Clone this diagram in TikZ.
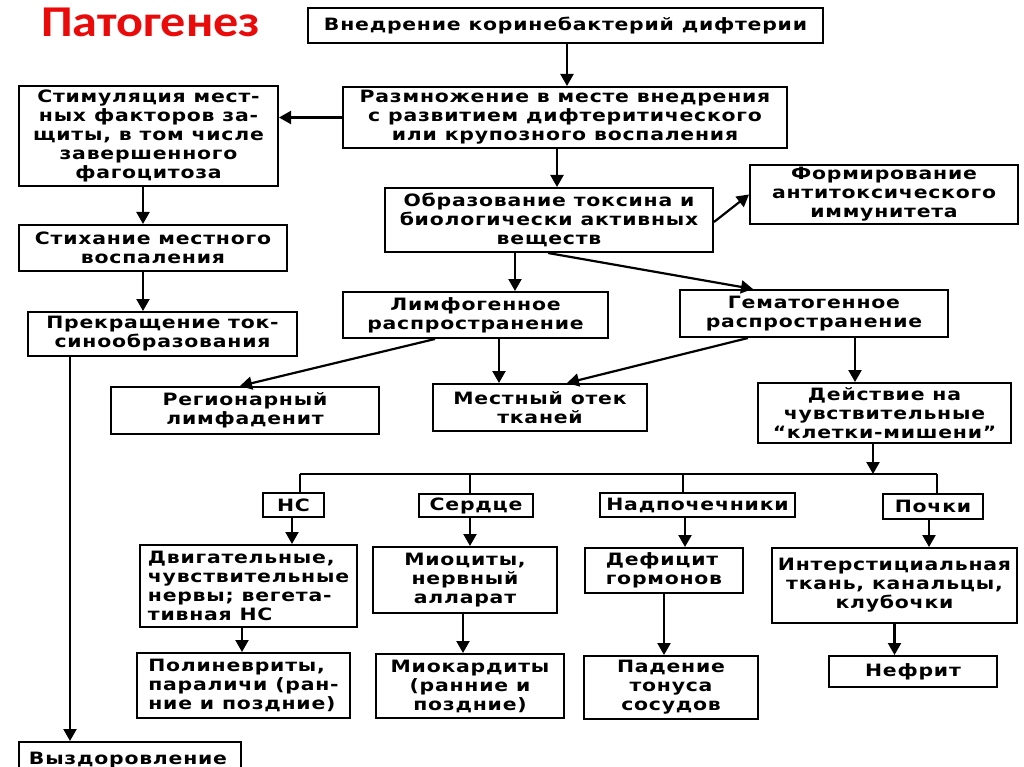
\documentclass[tikz,border=0pt]{standalone}
\usepackage{fontspec}
\setmainfont{DejaVu Sans}[FakeStretch=1.2, LetterSpace=4.5]
\newfontfamily\titlefont{Carlito}[FakeStretch=1.14]
\usetikzlibrary{arrows.meta}
\definecolor{titlered}{RGB}{235,10,10}
\tikzset{
  box/.style={draw, line width=2pt, inner sep=0pt, align=center,
    font=\fontsize{17}{19}\selectfont\bfseries},
  arr/.style={line width=2.2pt, -{Triangle[length=12pt,width=13pt]}},
  ln/.style={line width=2pt},
}
\begin{document}
\begin{tikzpicture}[x=1pt,y=-1pt]
\useasboundingbox (0,0) rectangle (1024,767);
\fill[white] (0,0) rectangle (1024,767);

\node[anchor=base west, inner sep=0pt, text=titlered,
  font=\titlefont\fontsize{44}{44}\selectfont\bfseries] (title) at (41,37) {Патогенез};

\node[box, minimum width=515pt, minimum height=35pt] (b1) at (565.5,25.5)
  {Внедрение коринебактерий дифтерии};
\node[box, minimum width=259pt, minimum height=100pt] (stim) at (148.5,136)
  {Стимуляция мест-\\ных факторов за-\\щиты, в том числе\\завершенного\\фагоцитоза};
\node[box, minimum width=444pt, minimum height=61pt] (razm) at (565,117.5)
  {Размножение в месте внедрения\\с развитием дифтеритического\\или крупозного воспаления};
\node[box, minimum width=328pt, minimum height=64pt] (obr) at (549,220)
  {Образование токсина и\\биологически активных\\веществ};
\node[box, minimum width=268pt, minimum height=59pt] (form) at (884,194.5)
  {Формирование\\антитоксического\\иммунитета};
\node[box, minimum width=268pt, minimum height=46pt] (stikh) at (153,248)
  {Стихание местного\\воспаления};
\node[box, minimum width=269pt, minimum height=44pt] (prekr) at (162.5,334)
  {Прекращение ток-\\синообразования};
\node[box, minimum width=222pt, minimum height=36pt, anchor=north west] (vyzd) at (18,741)
  {\hspace*{-4pt}Выздоровление};
\node[box, minimum width=265pt, minimum height=46pt] (limf) at (475.5,315)
  {Лимфогенное\\распространение};
\node[box, minimum width=268pt, minimum height=47pt] (gem) at (814,313.5)
  {Гематогенное\\распространение};
\node[box, minimum width=268pt, minimum height=47pt] (reg) at (245,410.5)
  {Регионарный\\лимфаденит};
\node[box, minimum width=214pt, minimum height=47pt] (otek) at (540,407.5)
  {Местный отек\\тканей};
\node[box, minimum width=253pt, minimum height=60pt] (deyst) at (884.5,413)
  {Действие на\\чувствительные\\“клетки-мишени”};

\node[box, minimum width=61pt, minimum height=24pt] (ns) at (293.5,505) {НС};
\node[box, minimum width=114pt, minimum height=23pt] (serd) at (476,505.5) {Сердце};
\node[box, minimum width=195pt, minimum height=24pt] (nadp) at (697.5,505) {Надпочечники};
\node[box, minimum width=100pt, minimum height=25pt] (poch) at (933,506.5) {Почки};

\node[box, minimum width=217pt, minimum height=82pt, align=left] (dvig) at (248.5,586)
  {Двигательные,\\чувствительные\\нервы; вегета-\\тивная НС};
\node[box, minimum width=184pt, minimum height=66pt] (mioc) at (465,580)
  {Миоциты,\\нервный\\алларат};
\node[box, minimum width=158pt, minimum height=45pt, align=left] (defic) at (664,570.5)
  {Дефицит\\гормонов};
\node[box, minimum width=245pt, minimum height=75pt] (inter) at (894.5,585.5)
  {Интерстициальная\\ткань, канальцы,\\клубочки};

\node[box, minimum width=213pt, minimum height=65pt, align=left] (polin) at (243.5,685.5)
  {Полиневриты,\\параличи (ран-\\ние и поздние)};
\node[box, minimum width=188pt, minimum height=64pt] (miok) at (470,686)
  {Миокардиты\\(ранние и\\поздние)};
\node[box, minimum width=174pt, minimum height=63pt] (pad) at (671,687.5)
  {Падение\\тонуса\\сосудов};
\node[box, minimum width=168pt, minimum height=31pt] (nefr) at (913,671.5)
  {Нефрит};

% connectors
\draw[arr] ([xshift=1.5pt]b1.south) -- ([xshift=1.5pt]b1.south |- razm.north);
\draw[arr] (razm.west) -- (stim.east |- razm.west);
\draw[arr] ([xshift=-8pt]razm.south) -- ([xshift=-8pt]razm.south |- obr.north);
\draw[arr] ([yshift=-2pt]obr.east) -- (form.west);
\draw[arr] ([xshift=-5.5pt]stim.south) -- ([xshift=-5.5pt]stim.south |- stikh.north);
\draw[arr] ([xshift=-10pt]stikh.south) -- ([xshift=-10pt]stikh.south |- prekr.north);
\draw[arr] ([xshift=-92.5pt]prekr.south) -- ([xshift=-92.5pt]prekr.south |- vyzd.north);
\draw[arr] ([xshift=-34pt]obr.south) -- ([xshift=-34pt]obr.south |- limf.north);
\draw[arr] ([xshift=-1pt]obr.south) -- ([xshift=-61pt]gem.north);
\draw[arr] ([xshift=-40.5pt]limf.south) -- ([xshift=-5pt]reg.north);
\draw[arr] ([xshift=23.5pt]limf.south) -- ([xshift=23.5pt]limf.south |- otek.north);
\draw[arr] ([xshift=-66pt]gem.south) -- ([xshift=27pt]otek.north);
\draw[arr] ([xshift=41pt]gem.south) -- ([xshift=41pt]gem.south |- deyst.north);

\coordinate (busL) at (300,474);
\coordinate (busR) at (937,474);
\draw[arr] ([xshift=-11.5pt]deyst.south) -- ([xshift=-11.5pt]deyst.south |- busL);
\draw[ln] (busL) -- (busR);
\draw[ln] (busL) -- (busL |- ns.north);
\draw[ln] ([xshift=-6pt]serd.north |- busL) -- ([xshift=-6pt]serd.north);
\draw[ln] ([xshift=-14.5pt]nadp.north |- busL) -- ([xshift=-14.5pt]nadp.north);
\draw[ln] (busR) -- (busR |- poch.north);

\draw[arr] ([xshift=-1.5pt]ns.south) -- ([xshift=-1.5pt]ns.south |- dvig.north);
\draw[arr] ([xshift=-6pt]serd.south) -- ([xshift=-6pt]serd.south |- mioc.north);
\draw[arr] ([xshift=-12.5pt]nadp.south) -- ([xshift=-12.5pt]nadp.south |- defic.north);
\draw[arr] ([xshift=-4pt]poch.south) -- ([xshift=-4pt]poch.south |- inter.north);
\draw[arr] ([xshift=-6.5pt]dvig.south) -- ([xshift=-6.5pt]dvig.south |- polin.north);
\draw[arr] ([xshift=-2pt]mioc.south) -- ([xshift=-2pt]mioc.south |- miok.north);
\draw[arr] (defic.south) -- (defic.south |- pad.north);
\draw[arr] (inter.south) -- (inter.south |- nefr.north);
\end{tikzpicture}
\end{document}
